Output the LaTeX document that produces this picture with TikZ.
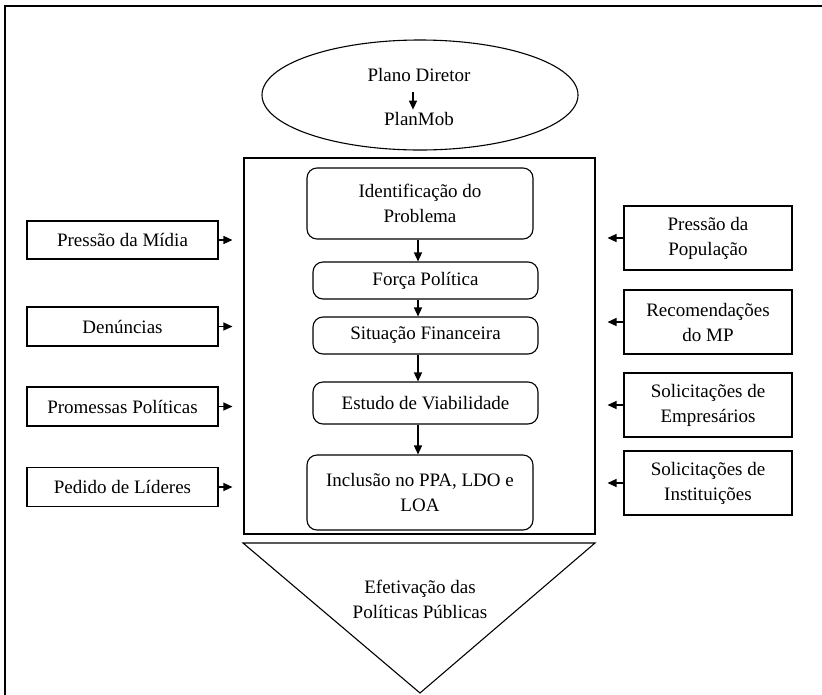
\documentclass[tikz,border=0pt]{standalone}
\usepackage{fontspec}
\setmainfont{Liberation Serif}
\usetikzlibrary{arrows.meta,shapes.geometric}
\begin{document}
\begin{tikzpicture}[x=1pt,y=-1pt,
  every node/.style={font=\fontsize{19}{25}\selectfont, inner sep=0pt},
  sqbox/.style={draw, line width=1.1pt, align=center, minimum width=#1},
  rbox/.style={draw, line width=1.1pt, align=center, rounded corners=10pt, minimum width=#1},
  arr/.style={line width=1.3pt, -{Triangle[length=9pt,width=8pt]}}]
\useasboundingbox (0,0) rectangle (822,694);
\clip (0,0) rectangle (822,694);
% outer frame (cut by the page)
\draw[line width=1.6pt] (5,720) -- (5,6) -- (840,6);
% ellipse
\node[draw, ellipse, line width=1.1pt, minimum width=316pt, minimum height=110pt] (ell) at (420,95) {};
\node[anchor=base] (pd) at (419,81) {Plano Diretor};
\node[anchor=base] (pm) at (419,125) {PlanMob};
\draw[arr] ([xshift=-6pt,yshift=-11pt]pd.south) -- ([xshift=-6pt,yshift=2pt]pm.north);
% central frame
\node[draw, line width=1.1pt, minimum width=351pt, minimum height=376pt] (mid) at (419.5,346) {};
\coordinate (ax) at (418,0);
\node[rbox=226pt, minimum height=71pt] (ident) at (420,203.5) {Identificação do\\Problema};
\node[rbox=225pt, minimum height=37pt] (forca) at (425.5,280.5) {Força Política};
\node[rbox=225pt, minimum height=37pt] (sit) at (425.5,335.5) {Situação Financeira};
\node[rbox=225pt, minimum height=42pt] (est) at (425.5,403) {Estudo de Viabilidade};
\node[rbox=226pt, minimum height=75pt] (incl) at (420,492.5) {Inclusão no PPA, LDO e\\LOA};
\draw[arr] (ident.south -| ax) -- (forca.north -| ax);
\draw[arr] (forca.south -| ax) -- (sit.north -| ax);
\draw[arr] (sit.south -| ax) -- (est.north -| ax);
\draw[arr] (est.south -| ax) -- (incl.north -| ax);
% left boxes
\node[sqbox=191pt, minimum height=38pt] (midia) at (122.5,240) {Pressão da Mídia};
\node[sqbox=191pt, minimum height=39pt] (den) at (122.5,326.5) {Denúncias};
\node[sqbox=191pt, minimum height=39pt] (prom) at (122.5,406.5) {Promessas Políticas};
\node[sqbox=191pt, minimum height=39pt] (ped) at (122.5,487) {Pedido de Líderes};
\foreach \n in {midia,den,prom,ped}
  \draw[arr, shorten >=11pt] (\n.east) -- (\n.east -| mid.west);
% right boxes
\node[sqbox=168pt, minimum height=64pt] (pop) at (708,238) {Pressão da\\População};
\node[sqbox=168pt, minimum height=64pt] (mp) at (708,322) {Recomendações\\do MP};
\node[sqbox=168pt, minimum height=64pt] (emp) at (708,405) {Solicitações de\\Empresários};
\node[sqbox=168pt, minimum height=64pt] (inst) at (708,483) {Solicitações de\\Instituições};
\foreach \n in {pop,mp,emp,inst}
  \draw[arr, shorten >=12pt] (\n.west) -- (\n.west -| mid.east);
% triangle
\coordinate (tl) at (243,543);
\coordinate (tr) at (595,543);
\coordinate (tb) at (420,693);
\draw[line width=1.1pt, line join=miter] (tl) -- (tr) -- (tb) -- cycle;
\node[align=center] (efet) at (420,599.5) {Efetivação das\\Políticas Públicas};
\end{tikzpicture}
\end{document}
